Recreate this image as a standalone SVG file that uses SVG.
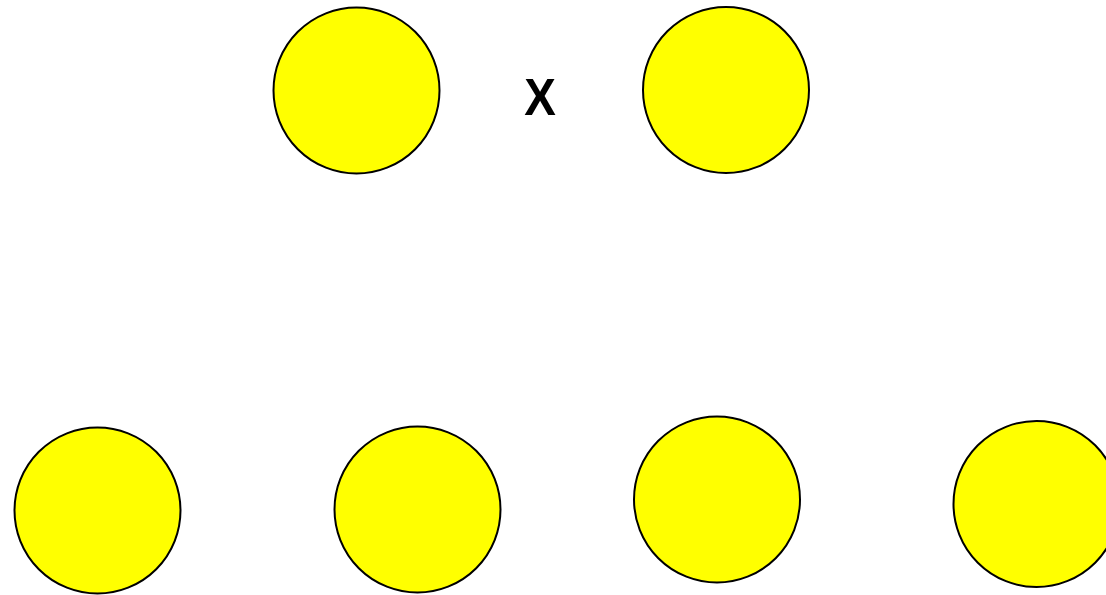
<svg xmlns="http://www.w3.org/2000/svg" width="1106" height="595" viewBox="0 0 1106 595">
<style>
.n{fill:#ffff00;stroke:#000;stroke-width:2}
.t{font-family:"Liberation Sans",Arial,sans-serif;font-weight:bold;font-size:51px;fill:#000;text-anchor:middle}
</style>
<rect width="1106" height="595" fill="#fff"/>
<g id="node1"><circle class="n" cx="356.5" cy="90.5" r="83"/></g>
<g id="node2"><circle class="n" cx="726" cy="90" r="83"/></g>
<g id="label-x"><text class="t" x="540" y="115" transform="translate(540 0) scale(0.93 1) translate(-540 0)">X</text></g>
<g id="node3"><circle class="n" cx="97.5" cy="510.5" r="83"/></g>
<g id="node4"><circle class="n" cx="417.5" cy="509.5" r="83"/></g>
<g id="node5"><circle class="n" cx="717" cy="499.5" r="83"/></g>
<g id="node6"><circle class="n" cx="1036.5" cy="504" r="83"/></g>
<g id="connectors"></g>
</svg>
